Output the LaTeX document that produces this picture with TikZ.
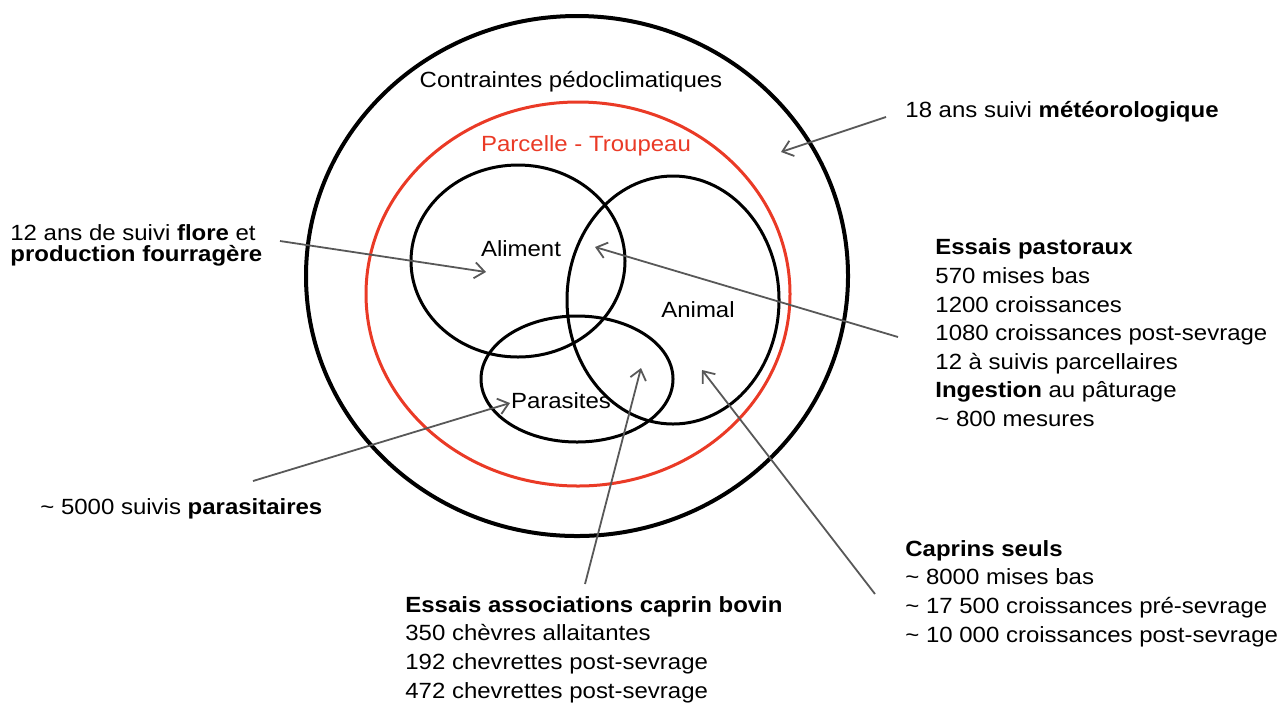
\documentclass[tikz,border=0pt]{standalone}
\usepackage{fontspec}
\setmainfont{Liberation Sans}[FakeStretch=1.09]
\usetikzlibrary{arrows.meta}
\definecolor{parcelred}{RGB}{234,58,38}
\definecolor{pointergray}{RGB}{88,88,88}
\begin{document}
\begin{tikzpicture}[x=0.5pt, y=-0.5pt,
    ring/.style={line width=1.5pt},
    txt/.style={inner sep=0pt, font=\fontsize{11}{14.3}\selectfont},
    block/.style={txt, anchor=base west, align=left},
    pointer/.style={pointergray, line width=0.9pt, -{Straight Barb[length=5pt, width=8pt]}}]
    \useasboundingbox (0,0) rectangle (1288,709);

    % Circles
    \draw[line width=2pt] (577,276) ellipse [x radius=271, y radius=260];
    \draw[ring, parcelred] (578,294) ellipse [x radius=212, y radius=192];
    \draw[ring] (518,261) ellipse [x radius=107, y radius=96];
    \draw[ring] (673,300) ellipse [x radius=106, y radius=124];
    \draw[ring] (577,379) ellipse [x radius=96, y radius=63];

    % Circle labels
    \node[txt, anchor=base] (contraintes) at (571,87.7) {Contraintes pédoclimatiques};
    \node[txt, anchor=base, text=parcelred] (parcelle) at (586,151) {Parcelle - Troupeau};
    \node[txt, anchor=base] (aliment) at (521,256.7) {Aliment};
    \node[txt, anchor=base] (animal) at (698,317) {Animal};
    \node[txt, anchor=base] (parasites) at (561,408) {Parasites};

    % Data blocks (anchored on the baseline of their last line)
    \node[block] (meteo) at (905,117.3) {18 ans suivi \textbf{météorologique}};
    \node[block, font=\fontsize{11}{10.5}\selectfont] (flore) at (10,261.5)
        {12 ans de suivi \textbf{flore} et\\\textbf{production fourragère}};
    \node[block] (pastoraux) at (935,426.5) {\textbf{Essais pastoraux}\\570 mises bas\\1200 croissances\\
        1080 croissances post-sevrage\\12 à suivis parcellaires\\\textbf{Ingestion} au pâturage\\\textasciitilde{} 800 mesures};
    \node[block] (parasitaires) at (40,514) {\textasciitilde{} 5000 suivis \textbf{parasitaires}};
    \node[block] (caprins) at (905,642) {\textbf{Caprins seuls}\\\textasciitilde{} 8000 mises bas\\
        \textasciitilde{} 17 500 croissances pré-sevrage\\\textasciitilde{} 10 000 croissances post-sevrage};
    \node[block] (associations) at (405,698) {\textbf{Essais associations caprin bovin}\\350 chèvres allaitantes\\
        192 chevrettes post-sevrage\\472 chevrettes post-sevrage};

    % Pointers
    \coordinate (meteo start) at (886,117);
    \coordinate (meteo tip) at (781,152);
    \coordinate (flore start) at (280,241);
    \coordinate (flore tip) at (486,272);
    \coordinate (pastoraux start) at (898,337);
    \coordinate (pastoraux tip) at (595,247);
    \coordinate (parasitaires start) at (253,481);
    \coordinate (parasitaires tip) at (510,403);
    \coordinate (associations start) at (585,584);
    \coordinate (associations tip) at (641,368);
    \coordinate (caprins start) at (875,594);
    \coordinate (caprins tip) at (702,370);
    \foreach \src in {meteo, flore, pastoraux, parasitaires, associations, caprins}
        \draw[pointer] (\src\space start) -- (\src\space tip);
\end{tikzpicture}
\end{document}
